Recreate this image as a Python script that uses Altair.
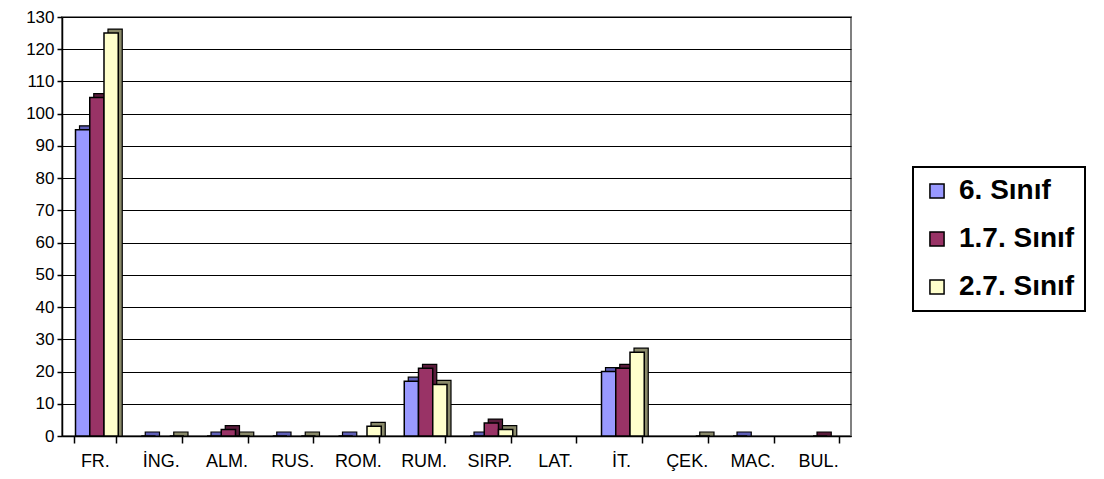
import altair as alt
import pandas as pd

categories = ["FR.", "İNG.", "ALM.", "RUS.", "ROM.", "RUM.", "SIRP.", "LAT.", "İT.", "ÇEK.", "MAC.", "BUL."]
series_names = ["6. Sınıf", "1.7. Sınıf", "2.7. Sınıf"]
sinif6 = [95, 0, 0, 0, 0, 17, 0, None, 20, None, 0, None]
sinif17 = [105, None, 2, None, None, 21, 4, None, 21, None, None, 0]
sinif27 = [125, 0, 0, 0, 3, 16, 2, None, 26, 0, None, None]
y_ticks = list(range(0, 131, 10))

front_colors = ["#9999FF", "#993366", "#FFFFCC"]
side_colors = ["#6060b8", "#5a1c3c", "#8a8a6a"]

rows = []
for name, vals in zip(series_names, [sinif6, sinif17, sinif27]):
    for c, v in zip(categories, vals):
        if v is not None:
            rows.append({"cat": c, "series": name, "value": v})
df = pd.DataFrame(rows)

FONT = "Liberation Sans"
W, H = 789, 419
PI = 0.35
BW = W / len(categories) * (1 - PI)
DEPTH = 4
SHIFT = 2

x_enc = alt.X("cat:N", scale=alt.Scale(domain=categories, paddingInner=PI, paddingOuter=PI / 2),
              axis=alt.Axis(title=None, labelAngle=0, tickBand="extent", tickSize=7, tickColor="black",
                            tickWidth=1.5, domainColor="black", domainWidth=1.5, labelFont=FONT,
                            labelFontSize=18, labelColor="black", labelPadding=9, grid=False))
y_enc = alt.Y("value:Q", scale=alt.Scale(domain=[0, 130], nice=False),
              axis=alt.Axis(title=None, values=y_ticks, tickSize=5, tickColor="black", tickWidth=1.5,
                            domainColor="black", domainWidth=1.5, grid=True, gridColor="black",
                            gridWidth=1.2, labelFont=FONT, labelFontSize=17, labelColor="black",
                            labelPadding=3))

back = alt.Chart(df).mark_bar(yOffset=-DEPTH, y2Offset=0, stroke="black", strokeWidth=1.2).encode(
    x=x_enc,
    xOffset=alt.XOffset("series:N", scale=alt.Scale(domain=series_names,
                                                    range=[SHIFT + DEPTH, SHIFT + BW + DEPTH],
                                                    paddingInner=0, paddingOuter=0)),
    y=y_enc,
    y2=alt.datum(0),
    color=alt.Color("series:N", scale=alt.Scale(domain=series_names, range=side_colors), legend=None),
)

front = alt.Chart(df).mark_bar(stroke="black", strokeWidth=1.5).encode(
    x=x_enc,
    xOffset=alt.XOffset("series:N", scale=alt.Scale(domain=series_names, range=[SHIFT, SHIFT + BW],
                                                    paddingInner=0, paddingOuter=0)),
    y=y_enc,
    color=alt.Color("series:N", scale=alt.Scale(domain=series_names, range=front_colors),
                    legend=alt.Legend(title=None, orient="none", legendX=851, legendY=150,
                                      symbolType="square", symbolSize=200, symbolStrokeColor="black",
                                      symbolStrokeWidth=1.5, symbolOpacity=1, labelFont=FONT,
                                      labelFontSize=28, labelFontWeight="bold", labelColor="black",
                                      rowPadding=20, padding=10, strokeColor="black",
                                      labelLimit=300, labelOffset=8)),
)

chart = alt.layer(back, front).resolve_scale(color="independent", xOffset="independent").properties(
    width=W, height=H,
    autosize=alt.AutoSizeParams(type="none"),
    padding={"left": 54, "top": 9, "right": 245, "bottom": 35},
).configure_view(stroke="#808080", strokeWidth=2).configure_legend(strokeWidth=2)

chart.save("out.html", embed_options={"renderer": "svg", "actions": False})
